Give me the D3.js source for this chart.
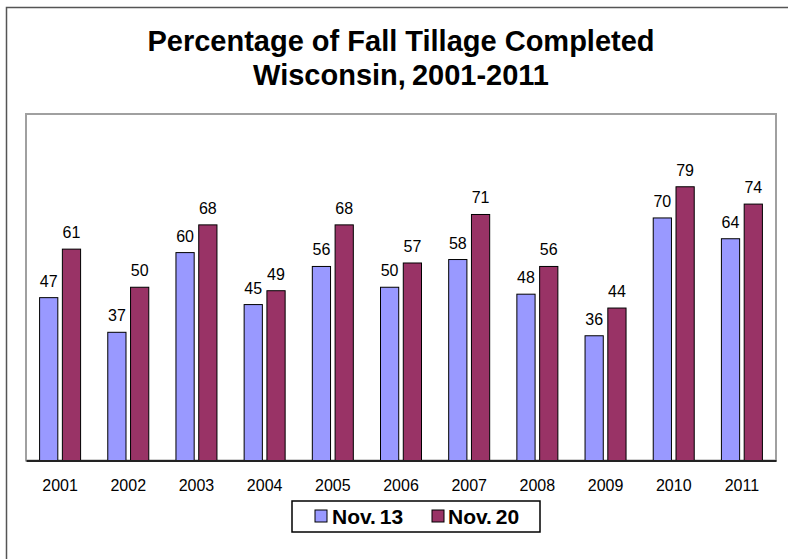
<!DOCTYPE html>
<html><head><meta charset="utf-8">
<script src="https://cdn.jsdelivr.net/npm/d3@7"></script>
<style>body{margin:0;background:#fff}svg{display:block;font-family:"Liberation Sans",Arial,sans-serif}</style>
</head><body>
<svg id="c" width="788" height="559"></svg>
<script>
const years = ["2001","2002","2003","2004","2005","2006","2007","2008","2009","2010","2011"];
const seriesNames = ["Nov. 13","Nov. 20"];
const nov13 = [47,37,60,45,56,50,58,48,36,70,64];
const nov20 = [61,50,68,49,68,57,71,56,44,79,74];
const colors = ["#9999FF","#993366"];
const titleLines = ["Percentage of Fall Tillage Completed","Wisconsin, 2001-2011"];

const svg = d3.select("#c");
svg.append("rect").attr("x",6.5).attr("y",7.5).attr("width",790).attr("height",560)
  .attr("fill","#fff").attr("stroke","#555").attr("stroke-width",1.5);

const L=26,R=776,T=114,B=460.5;
svg.append("rect").attr("x",L).attr("y",T).attr("width",R-L).attr("height",B-T)
  .attr("fill","#fff").attr("stroke","#a0a0a0").attr("stroke-width",2);

const x = d3.scaleBand().domain(years).range([L,R]).paddingInner(0).paddingOuter(0);
const xs = d3.scaleBand().domain(seriesNames).range([x.bandwidth()/2-20.5, x.bandwidth()/2+20.5]).paddingInner(0.2);
const y = d3.scaleLinear().domain([0,100]).range([B,T]);

const data = years.map((yr,i)=>({yr, vals:[nov13[i],nov20[i]]}));
const g = svg.append("g");
const grp = g.selectAll("g.grp").data(data).join("g").attr("transform",d=>`translate(${x(d.yr)},0)`);
grp.selectAll("rect").data(d=>d.vals.map((v,j)=>({v,j}))).join("rect")
  .attr("x",d=>xs(seriesNames[d.j])).attr("width",xs.bandwidth())
  .attr("y",d=>y(d.v)).attr("height",d=>B-y(d.v))
  .attr("fill",d=>colors[d.j]).attr("stroke","#000").attr("stroke-width",1);
grp.selectAll("text").data(d=>d.vals.map((v,j)=>({v,j}))).join("text")
  .attr("x",d=>xs(seriesNames[d.j])+xs.bandwidth()/2).attr("y",d=>y(d.v)-11)
  .attr("text-anchor","middle").attr("font-size",16).attr("fill","#000").text(d=>d.v);

const xAxis = svg.append("g").attr("transform",`translate(0,${B})`)
  .call(d3.axisBottom(x).tickSize(0).tickPadding(19));
xAxis.select(".domain").attr("stroke","#222").attr("stroke-width",2);
xAxis.selectAll("text").attr("font-size",16).attr("font-family","Liberation Sans, Arial, sans-serif").attr("fill","#000");

svg.selectAll("text.title").data(titleLines).join("text").attr("class","title")
  .attr("x",401).attr("y",(d,i)=>51+i*34).attr("text-anchor","middle")
  .attr("font-size",29).attr("font-weight","bold").attr("word-spacing",(d,i)=>i===0?0:-2).text(d=>d);

const lg = svg.append("g");
lg.append("rect").attr("x",292).attr("y",501).attr("width",248).attr("height",31)
  .attr("fill","#fff").attr("stroke","#000").attr("stroke-width",1.5);
const items = [{x:315,tx:332},{x:432,tx:448}];
seriesNames.forEach((s,i)=>{
  lg.append("rect").attr("x",items[i].x).attr("y",510).attr("width",12).attr("height",12)
    .attr("fill",colors[i]).attr("stroke","#000").attr("stroke-width",1);
  lg.append("text").attr("x",items[i].tx).attr("y",524).attr("font-size",21).attr("font-weight","bold").attr("word-spacing",-2).text(s);
});
</script>
</body></html>
